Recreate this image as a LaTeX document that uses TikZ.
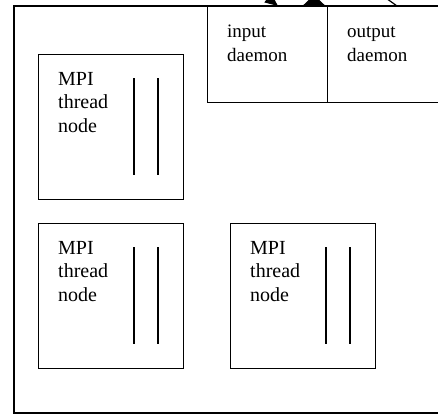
\documentclass[tikz,border=0pt]{standalone}
\usepackage{fontspec}
\setmainfont{Liberation Serif}
\usetikzlibrary{calc,arrows.meta}
\begin{document}
\begin{tikzpicture}[x=1pt,y=-1pt,
  frame/.style={draw,line width=1.5pt},
  mpibox/.style={draw,line width=1.2pt,minimum width=145pt,minimum height=145pt,inner sep=0pt,anchor=north west},
  daemonbox/.style={draw,line width=1.2pt,minimum height=96pt,inner sep=0pt,anchor=north west},
  % the base anchor of a multi-line node sits on its last line
  boxtext/.style={anchor=base west,align=left,inner sep=0pt,font=\fontsize{20}{23.5}\selectfont},
  bar/.style={line width=1.3pt},
  link/.style={line width=1.2pt}]
\useasboundingbox (0,0) rectangle (438,416);
\clip (0,0) rectangle (438,416);

% outer frame, open on the right
\draw[frame] (460,6) -| (14,413) -- (460,413);

% daemon boxes along the top edge
\node[daemonbox,minimum width=120pt] (in) at (207,6) {};
\node[daemonbox,minimum width=140pt] (out) at (327,6) {};
\node[boxtext,font=\fontsize{19}{24.5}\selectfont] (intext) at (227,61.5) {input\\daemon};
\node[boxtext,font=\fontsize{19}{24.5}\selectfont] (outtext) at (347,61.5) {output\\daemon};

% MPI thread nodes
\node[mpibox] (m1) at (38,54) {};
\node[mpibox] (m2) at (38,223) {};
\node[mpibox] (m3) at (230,223) {};
\node[boxtext] (t1) at (58,132) {MPI\\thread\\node};
\node[boxtext] (t2) at (58,301) {MPI\\thread\\node};
\node[boxtext] (t3) at (250,301) {MPI\\thread\\node};
\foreach \b in {m1,m2,m3} {
  \draw[bar] ($(\b.north west)+(96,24)$) -- ($(\b.north west)+(96,121)$);
  \draw[bar] ($(\b.north west)+(120,24)$) -- ($(\b.north west)+(120,121)$);
}

% links leaving the daemons through the top edge
\coordinate (src1) at (245,-20);
\coordinate (dst2) at (314,-5);
\coordinate (src3) at (372,-12);
\draw[link,-{Triangle[width=11pt,length=13pt]}] (src1) -- ($(in.north west)+(71,0)$);
\draw[link,-{Triangle[width=23pt,length=11pt]}] ($(in.north west)+(107,0)$) -- (dst2);
\draw[link] (src3) -- ($(out.north west)+(70,0)$);
\end{tikzpicture}
\end{document}
